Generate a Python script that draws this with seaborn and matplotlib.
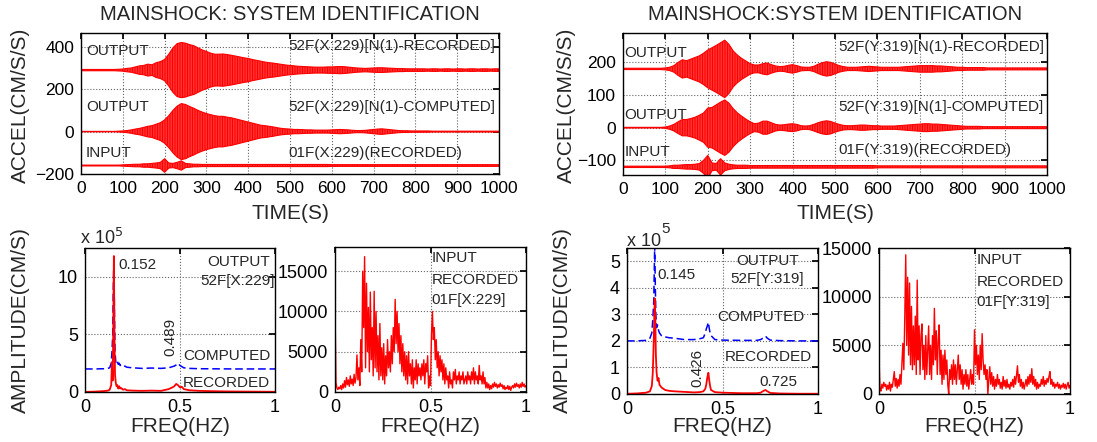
import numpy as np
import matplotlib
matplotlib.use('Agg')
import matplotlib.pyplot as plt
import seaborn as sns

# ---------------- data ----------------
# time axis for the acceleration envelopes (s)
time_s = np.arange(0, 1001, 10)

# half-amplitude envelopes of the traces (cm/s/s), X:229 direction
env_x_rec = [3, 3, 3, 3, 3, 3, 3, 3, 3, 4,
             5, 8, 10, 15, 20, 22, 28, 25, 35, 40,
             50, 75, 105, 125, 130, 127, 120, 115, 105, 95,
             88, 80, 75, 75, 76, 73, 70, 66, 62, 58,
             55, 50, 46, 42, 38, 35, 33, 30, 27, 24,
             22, 20, 18, 17, 16, 15, 14, 14, 14, 15,
             15, 16, 17, 16, 14, 12, 10, 9, 8, 9,
             10, 11, 11, 10, 9, 8, 7, 7, 6, 6,
             6, 6, 6, 5, 6, 6, 5, 6, 6, 5,
             6, 6, 5, 6, 6, 5, 6, 6, 5, 6,
             6]
env_x_cmp = [1, 1, 1, 1, 1, 1, 1, 1, 1, 2,
             3, 5, 8, 12, 15, 20, 25, 28, 35, 42,
             55, 75, 100, 120, 132, 128, 118, 110, 100, 92,
             85, 80, 75, 72, 72, 68, 65, 60, 55, 50,
             45, 40, 35, 30, 28, 25, 22, 18, 15, 13,
             12, 10, 10, 9, 8, 8, 7, 7, 7, 7,
             8, 9, 10, 9, 8, 6, 5, 5, 6, 8,
             10, 12, 13, 11, 9, 7, 5, 4, 4, 3,
             3, 3, 3, 3, 2, 2, 2, 2, 2, 2,
             2, 2, 2, 2, 2, 2, 2, 2, 2, 2,
             2]
env_x_inp = [2, 2, 2, 2, 2, 2, 2, 2, 2, 2,
             3, 4, 5, 6, 6, 8, 8, 10, 12, 15,
             32, 12, 10, 15, 22, 10, 8, 6, 6, 5,
             5, 5, 5, 5, 5, 5, 5, 5, 5, 5,
             5, 5, 5, 5, 5, 5, 5, 5, 5, 5,
             5, 5, 5, 5, 5, 5, 5, 5, 5, 5,
             4, 4, 4, 4, 4, 4, 4, 4, 4, 4,
             4, 4, 4, 4, 4, 4, 4, 4, 4, 4,
             4, 4, 4, 4, 4, 4, 4, 4, 4, 4,
             4, 4, 4, 4, 4, 4, 4, 4, 4, 4,
             4]

# Y:319 direction
env_y_rec = [2, 2, 2, 2, 2, 2, 2, 2, 2, 2,
             3, 5, 10, 20, 28, 25, 30, 35, 40, 48,
             58, 65, 72, 80, 88, 75, 55, 42, 32, 24,
             16, 12, 12, 16, 18, 13, 9, 7, 8, 11,
             13, 10, 6, 5, 5, 8, 14, 19, 22, 20,
             15, 10, 7, 5, 5, 5, 6, 7, 8, 7,
             6, 5, 5, 5, 5, 5, 6, 7, 8, 9,
             10, 10, 10, 10, 9, 9, 8, 7, 6, 5,
             5, 4, 4, 4, 4, 4, 3, 3, 3, 3,
             3, 3, 3, 3, 3, 3, 3, 3, 3, 3,
             3]
env_y_cmp = [1, 1, 1, 1, 1, 1, 1, 1, 1, 1,
             2, 5, 10, 18, 25, 25, 28, 32, 38, 45,
             60, 62, 70, 78, 85, 75, 58, 45, 35, 26,
             18, 12, 14, 20, 20, 15, 10, 8, 9, 11,
             12, 10, 6, 5, 6, 10, 15, 19, 21, 19,
             14, 10, 7, 6, 6, 7, 8, 8, 7, 6,
             6, 5, 5, 5, 5, 6, 7, 8, 9, 10,
             11, 12, 12, 11, 11, 10, 9, 8, 7, 6,
             5, 4, 4, 4, 4, 3, 3, 3, 3, 3,
             3, 3, 3, 3, 3, 3, 3, 3, 3, 3,
             3]
env_y_inp = [2, 2, 2, 2, 2, 2, 2, 2, 2, 2,
             2, 3, 5, 5, 6, 7, 7, 8, 10, 20,
             35, 12, 10, 25, 12, 8, 6, 5, 5, 5,
             4, 4, 4, 4, 4, 4, 4, 4, 4, 4,
             4, 4, 4, 4, 4, 4, 4, 4, 4, 4,
             4, 4, 4, 4, 4, 4, 4, 4, 4, 4,
             3, 3, 3, 3, 3, 3, 3, 3, 3, 3,
             3, 3, 3, 3, 3, 3, 3, 3, 3, 3,
             3, 3, 3, 3, 3, 3, 3, 3, 3, 3,
             3, 3, 3, 3, 3, 3, 3, 3, 3, 3,
             3]

# trace offsets on the plot
offs_x = {'rec': 290, 'cmp': 0, 'inp': -160}
offs_y = {'rec': 180, 'cmp': 0, 'inp': -120}

# output spectra (x 1e5 cm/s)
freq_out_x = [0, 0.05, 0.1, 0.12, 0.13, 0.138, 0.142, 0.146, 0.149, 0.152,
              0.155, 0.158, 0.162, 0.166, 0.17, 0.175, 0.18, 0.185, 0.19, 0.2,
              0.21, 0.22, 0.25, 0.3, 0.35, 0.4, 0.44, 0.46, 0.47, 0.48,
              0.489, 0.5, 0.51, 0.52, 0.55, 0.6, 0.7, 0.8, 0.9, 1.0]
spec_out_x_rec = [0.01, 0.03, 0.08, 0.12, 0.2, 0.6, 2.6, 1.0, 6.0, 11.8,
                  5.0, 1.5, 0.8, 0.5, 0.6, 0.3, 0.5, 0.3, 0.35, 0.2,
                  0.25, 0.15, 0.12, 0.1, 0.12, 0.1, 0.25, 0.4, 0.5, 0.7,
                  0.6, 0.4, 0.45, 0.25, 0.15, 0.1, 0.06, 0.04, 0.03, 0.02]
spec_out_x_cmp = [2.0, 2.0, 2.02, 2.05, 2.1, 2.5, 3.5, 5.0, 9.0, 11.5,
                  7.0, 3.5, 2.6, 2.5, 2.7, 2.4, 2.5, 2.3, 2.35, 2.2,
                  2.25, 2.15, 2.1, 2.05, 2.08, 2.05, 2.1, 2.2, 2.25, 2.35,
                  2.5, 2.3, 2.2, 2.1, 2.05, 2.02, 2.01, 2.0, 2.0, 2.0]

freq_out_y = [0, 0.05, 0.1, 0.12, 0.13, 0.135, 0.14, 0.145, 0.148, 0.151,
              0.155, 0.16, 0.165, 0.17, 0.18, 0.19, 0.2, 0.22, 0.25, 0.3,
              0.35, 0.38, 0.4, 0.41, 0.415, 0.42, 0.426, 0.43, 0.435, 0.44,
              0.46, 0.5, 0.6, 0.68, 0.7, 0.715, 0.725, 0.735, 0.75, 0.8,
              0.9, 1.0]
spec_out_y_rec = [0.01, 0.02, 0.05, 0.1, 0.3, 0.8, 2.0, 3.6, 3.0, 1.5,
                  0.8, 0.5, 0.6, 0.35, 0.25, 0.2, 0.15, 0.12, 0.1, 0.08,
                  0.06, 0.07, 0.1, 0.2, 0.35, 0.6, 0.8, 0.55, 0.3, 0.15,
                  0.07, 0.05, 0.03, 0.03, 0.05, 0.12, 0.15, 0.1, 0.04, 0.02,
                  0.01, 0.01]
spec_out_y_cmp = [2.0, 2.0, 2.02, 2.1, 2.3, 2.8, 3.5, 5.6, 4.2, 3.0,
                  2.5, 2.6, 2.4, 2.3, 2.2, 2.15, 2.15, 2.12, 2.1, 2.05,
                  2.05, 2.08, 2.12, 2.3, 2.45, 2.55, 2.7, 2.5, 2.3, 2.2,
                  2.05, 2.03, 2.02, 2.02, 2.05, 2.12, 2.18, 2.1, 2.03, 2.01,
                  2.0, 2.0]

# input spectra, 0..1 Hz every 0.005 Hz (x 1000 cm/s)
freq_in = np.linspace(0, 1, 201)
spec_in_x = [10.7, 1.2, 0.5, 0.3, 0.6, 0.4, 0.8, 0.3, 1.0, 0.5,
             1.4, 0.6, 1.8, 0.9, 1.5, 0.7, 2.0, 1.0, 1.6, 0.8,
             2.2, 1.1, 1.8, 4.6, 1.5, 3.0, 0.8, 6.5, 2.5, 15.0,
             8.0, 16.8, 3.0, 13.5, 5.0, 10.5, 2.5, 12.4, 4.0, 8.0,
             2.0, 12.5, 3.0, 10.0, 2.5, 7.0, 1.5, 8.5, 2.0, 5.5,
             1.5, 6.0, 1.0, 4.5, 2.0, 6.5, 3.0, 5.0, 2.5, 7.0,
             3.5, 8.0, 5.0, 11.5, 6.0, 10.0, 5.0, 8.5, 3.5, 7.0,
             2.5, 6.0, 2.0, 5.0, 1.5, 4.5, 1.0, 5.0, 2.0, 3.5,
             1.0, 4.0, 0.5, 3.0, 1.5, 4.0, 1.0, 3.5, 2.0, 3.0,
             1.5, 3.5, 2.0, 4.0, 1.0, 3.5, 2.5, 4.5, 0.5, 2.0,
             0.8, 7.0, 10.0, 6.5, 8.0, 4.0, 6.5, 3.0, 5.0, 2.0,
             4.5, 2.5, 4.0, 1.5, 3.5, 1.0, 3.0, 1.5, 2.0, 0.5,
             2.5, 1.0, 1.5, 0.5, 2.5, 1.5, 2.8, 1.0, 2.0, 1.5,
             2.5, 1.0, 2.0, 1.5, 2.5, 1.0, 1.5, 2.0, 1.0, 2.5,
             1.5, 2.0, 1.0, 2.5, 1.5, 3.0, 1.0, 2.5, 1.5, 2.0,
             1.0, 3.3, 1.5, 2.0, 1.0, 2.5, 1.0, 1.8, 0.5, 1.2,
             0.5, 1.0, 0.3, 0.8, 0.4, 1.0, 0.6, 1.2, 0.7, 1.0,
             0.5, 0.9, 0.6, 1.1, 0.7, 0.9, 0.4, 0.8, 0.3, 0.6,
             0.4, 0.8, 0.3, 0.7, 0.2, 0.6, 0.8, 0.5, 1.0, 0.6,
             1.1, 0.7, 0.9, 0.5, 1.0, 0.6, 1.2, 0.7, 1.0, 0.6,
             0.8]
spec_in_y = [3.8, 0.5, 0.3, 1.0, 0.6, 1.2, 0.8, 1.0, 0.4, 0.9,
             0.5, 1.2, 0.3, 1.0, 0.7, 1.5, 2.3, 0.8, 1.6, 0.6,
             1.5, 0.8, 2.0, 1.0, 3.0, 5.2, 2.5, 8.0, 14.3, 5.0,
             12.0, 4.0, 11.4, 3.0, 9.0, 2.5, 7.0, 3.0, 8.0, 2.0,
             11.7, 3.5, 7.0, 2.0, 6.0, 7.2, 2.5, 5.0, 1.5, 6.0,
             2.0, 4.5, 7.0, 2.0, 5.0, 1.5, 6.0, 3.0, 8.8, 3.5,
             6.5, 2.0, 5.5, 7.1, 2.0, 4.5, 1.0, 4.0, 1.5, 4.5,
             2.0, 3.5, 1.0, 0.0, 2.5, 1.5, 3.0, 1.0, 3.5, 1.5,
             3.0, 1.0, 2.5, 4.0, 1.5, 3.0, 1.0, 2.5, 0.5, 2.0,
             1.0, 2.5, 0.8, 2.0, 0.5, 1.5, 2.5, 1.0, 2.0, 1.0,
             6.6, 3.0, 5.0, 2.0, 4.0, 1.5, 5.0, 2.5, 6.2, 3.5,
             2.0, 3.0, 1.5, 2.5, 0.0, 1.5, 2.8, 1.0, 2.2, 0.8,
             1.8, 0.5, 1.5, 0.8, 2.0, 1.0, 1.5, 0.6, 1.2, 0.5,
             1.8, 0.8, 1.4, 0.6, 1.5, 0.7, 1.0, 0.5, 1.2, 0.8,
             1.5, 0.7, 1.8, 1.0, 2.0, 2.9, 1.2, 2.0, 0.8, 1.5,
             0.6, 1.2, 0.5, 1.0, 1.5, 0.8, 1.8, 1.0, 2.0, 1.2,
             2.6, 1.0, 1.8, 0.8, 1.5, 0.5, 1.2, 0.6, 1.0, 0.8,
             1.5, 1.0, 1.8, 0.8, 1.4, 1.0, 1.6, 1.2, 1.8, 2.3,
             1.0, 1.5, 0.8, 1.2, 0.6, 1.0, 0.8, 1.2, 0.6, 1.0,
             0.5, 0.9, 0.7, 1.1, 0.6, 1.0, 0.5, 0.9, 1.2, 0.6,
             0.9]

# ---------------- figure ----------------
sns.set_theme(style='white')
plt.rcParams['font.family'] = ['Liberation Sans', 'DejaVu Sans']
plt.rcParams['axes.unicode_minus'] = True
plt.rcParams['hatch.color'] = '#ff0000'
plt.rcParams['hatch.linewidth'] = 1.0

W, H = 1097, 442
fig = plt.figure(figsize=(W / 100, H / 100), dpi=100)
RED = '#ff0000'
BLUE = '#0000ff'


def add_ax(l, t, r, b):
    # axes from pixel box (left, top, right, bottom)
    return fig.add_axes([l / W, 1 - b / H, (r - l) / W, (b - t) / H])


def fig_text(x, y, s, **kw):
    fig.text(x / W, 1 - y / H, s, **kw)


def style(ax, size=12):
    ax.tick_params(direction='in', top=True, right=True, length=4,
                   labelsize=size, pad=5, colors='black')
    ax.grid(True, linestyle=':', color='#666666', linewidth=0.8)
    for sp in ax.spines.values():
        sp.set_visible(True)
        sp.set_color('black')
        sp.set_linewidth(1.0)
    ax.set_xlabel('')
    ax.set_ylabel('')


def draw_trace(ax, env, off):
    # dense oscillation drawn as a striped band between the envelopes
    env = np.asarray(env, dtype=float)
    ax.fill_between(time_s, off - env, off + env, facecolor='#ffb4b4',
                    edgecolor=RED, hatch='|' * 10, linewidth=0.8)


# --- top panels: acceleration traces
tops = [
    (add_ax(81, 33, 499, 174), (env_x_rec, env_x_cmp, env_x_inp), offs_x,
     (-200, 465), [-200, 0, 200, 400], 12, 497,
     ['52F(X:229)[N(1)-RECORDED]', '52F(X:229)[N(1)-COMPUTED]', '01F(X:229)(RECORDED)'],
     (382, 116, -102), (402, 118, -100)),
    (add_ax(623, 33, 1047, 175), (env_y_rec, env_y_cmp, env_y_inp), offs_y,
     (-145, 290), [-100, 0, 100, 200], 4, 507,
     ['52F(Y:319)[N(1)-RECORDED]', '52F(Y:319)[N(1]-COMPUTED]', '01F(Y:319)(RECORDED)'],
     (228, 40, -76), (248, 62, -67)),
]

for ax, envs, offs, ylim, yt, xl, xr, labs, ypos_l, ypos_r in tops:
    draw_trace(ax, envs[0], offs['rec'])
    draw_trace(ax, envs[1], offs['cmp'])
    draw_trace(ax, envs[2], offs['inp'])
    ax.set_xlim(0, 1000)
    ax.set_ylim(*ylim)
    ax.set_xticks(np.arange(0, 1001, 100))
    ax.set_yticks(yt)
    style(ax, 12.5)
    for s, yv in zip(['OUTPUT', 'OUTPUT', 'INPUT'], ypos_l):
        ax.text(xl, yv, s, fontsize=11, va='center', ha='left')
    for s, yv in zip(labs, ypos_r):
        ax.text(xr, yv, s, fontsize=11, va='center', ha='left')

fig_text(290, 15, 'MAINSHOCK: SYSTEM IDENTIFICATION', fontsize=14.5, ha='center', va='center')
fig_text(835, 15, 'MAINSHOCK:SYSTEM IDENTIFICATION', fontsize=14.5, ha='center', va='center')
fig_text(20, 105, 'ACCEL(CM/S/S)', fontsize=15, rotation=90, ha='center', va='center')
fig_text(566, 105, 'ACCEL(CM/S/S)', fontsize=15, rotation=90, ha='center', va='center')
fig_text(290, 213, 'TIME(S)', fontsize=15, ha='center', va='center')
fig_text(835, 213, 'TIME(S)', fontsize=15, ha='center', va='center')

# --- bottom panels: Fourier amplitude spectra
ax1 = add_ax(85, 248, 275, 392)
sns.lineplot(x=freq_out_x, y=spec_out_x_cmp, ax=ax1, color=BLUE, lw=1.1,
             linestyle=(0, (5, 2.5)), estimator=None, sort=False)
sns.lineplot(x=freq_out_x, y=spec_out_x_rec, ax=ax1, color=RED, lw=1.3,
             estimator=None, sort=False)
ax1.set_xlim(0, 1)
ax1.set_ylim(0, 12.5)
ax1.set_xticks([0, 0.5, 1])
ax1.set_xticklabels(['0', '0.5', '1'])
ax1.set_yticks([0, 5, 10])
style(ax1, 13)
ax1.text(0.175, 11.0, '0.152', fontsize=11, va='center', ha='left')
ax1.text(0.975, 11.3, 'OUTPUT', fontsize=11, va='center', ha='right')
ax1.text(1.0, 9.6, '52F[X:229]', fontsize=11, va='center', ha='right')
ax1.text(0.447, 4.8, '0.489', fontsize=11, va='center', ha='center', rotation=90)
ax1.text(0.515, 3.1, 'COMPUTED', fontsize=11, va='center', ha='left')
ax1.text(0.515, 0.8, 'RECORDED', fontsize=11, va='center', ha='left')
fig_text(80, 244, r'x 10$^{5}$', fontsize=13, ha='left', va='baseline')

ax2 = add_ax(335, 247, 526, 392)
sns.lineplot(x=freq_in, y=np.asarray(spec_in_x) * 1000, ax=ax2, color=RED,
             lw=1.0, estimator=None, sort=False)
ax2.set_xlim(0, 1)
ax2.set_ylim(0, 18000)
ax2.set_xticks([0, 0.5, 1])
ax2.set_xticklabels(['0', '0.5', '1'])
ax2.set_yticks([0, 5000, 10000, 15000])
style(ax2, 13)
ax2.text(0.505, 16600, 'INPUT', fontsize=11, va='center', ha='left')
ax2.text(0.505, 13900, 'RECORDED', fontsize=11, va='center', ha='left')
ax2.text(0.505, 11400, '01F[X:229]', fontsize=11, va='center', ha='left')

ax3 = add_ax(627, 248, 818, 394)
sns.lineplot(x=freq_out_y, y=spec_out_y_cmp, ax=ax3, color=BLUE, lw=1.1,
             linestyle=(0, (5, 2.5)), estimator=None, sort=False)
sns.lineplot(x=freq_out_y, y=spec_out_y_rec, ax=ax3, color=RED, lw=1.3,
             estimator=None, sort=False)
ax3.set_xlim(0, 1)
ax3.set_ylim(0, 5.5)
ax3.set_xticks([0, 0.5, 1])
ax3.set_xticklabels(['0', '0.5', '1'])
ax3.set_yticks([0, 1, 2, 3, 4, 5])
style(ax3, 13)
ax3.text(0.157, 4.5, '0.145', fontsize=11, va='center', ha='left')
ax3.text(0.735, 5.0, 'OUTPUT', fontsize=11, va='center', ha='center')
ax3.text(0.735, 4.35, '52F[Y:319]', fontsize=11, va='center', ha='center')
ax3.text(0.47, 2.9, 'COMPUTED', fontsize=11, va='center', ha='left')
ax3.text(0.51, 1.4, 'RECORDED', fontsize=11, va='center', ha='left')
ax3.text(0.366, 1.0, '0.426', fontsize=11, va='center', ha='center', rotation=90)
ax3.text(0.79, 0.45, '0.725', fontsize=11, va='center', ha='center')
fig_text(627, 246, 'x 10', fontsize=13, ha='left', va='baseline')
fig_text(661, 233, '5', fontsize=11, ha='left', va='baseline')

ax4 = add_ax(879, 248, 1070, 394)
sns.lineplot(x=freq_in, y=np.asarray(spec_in_y) * 1000, ax=ax4, color=RED,
             lw=1.0, estimator=None, sort=False)
ax4.set_xlim(0, 1)
ax4.set_ylim(0, 15000)
ax4.set_xticks([0, 0.5, 1])
ax4.set_xticklabels(['0', '0.5', '1'])
ax4.set_yticks([0, 5000, 10000, 15000])
style(ax4, 13)
ax4.text(0.51, 13760, 'INPUT', fontsize=11, va='center', ha='left')
ax4.text(0.51, 11500, 'RECORDED', fontsize=11, va='center', ha='left')
ax4.text(0.51, 9450, '01F[Y:319]', fontsize=11, va='center', ha='left')

fig_text(20, 320, 'AMPLITUDE(CM/S)', fontsize=15, rotation=90, ha='center', va='center')
fig_text(562, 320, 'AMPLITUDE(CM/S)', fontsize=15, rotation=90, ha='center', va='center')
for cx in [180, 430, 722, 974]:
    fig_text(cx, 427, 'FREQ(HZ)', fontsize=15, ha='center', va='center')

fig.savefig('out.png', dpi=100)
